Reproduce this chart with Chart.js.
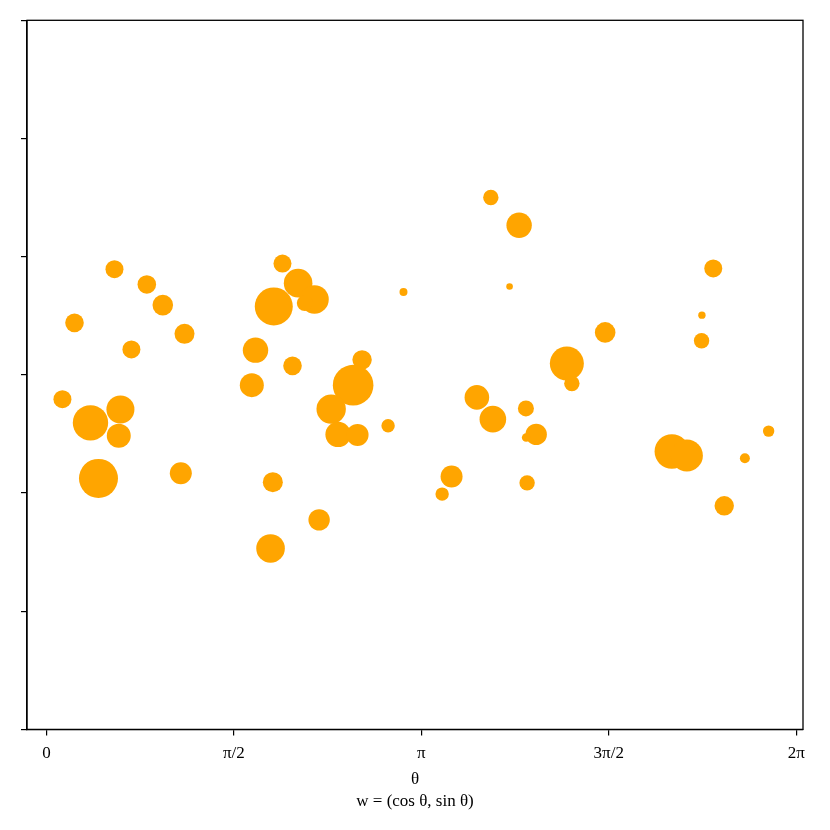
<!DOCTYPE html>
<html>
<head>
<meta charset="utf-8">
<script src="https://cdn.jsdelivr.net/npm/chart.js@4/dist/chart.umd.min.js"></script>
<style>
html,body{margin:0;padding:0;background:#fff;}
#wrap{width:830px;height:830px;}
</style>
</head>
<body>
<div id="wrap"><canvas id="c" width="830" height="830"></canvas></div>
<script>
// theta (radians)
const thetaValues = [
  0.570, 0.841, 0.975, 0.235, 1.157, 0.712, 0.134, 0.369, 0.620, 0.606,
  0.436, 1.126, 1.978, 2.109, 1.905, 2.246, 2.165, 2.992, 1.752, 2.062,
  2.645, 1.721, 2.570, 2.386, 2.444, 2.607, 2.863, 1.897, 2.285, 1.878,
  3.724, 3.961, 3.881, 5.588, 5.493, 5.490, 4.682, 4.361, 4.403, 3.607,
  3.741, 4.018, 4.104, 4.020, 3.395, 3.316, 4.028, 5.241, 5.367, 6.052,
  5.853, 5.680
];
// vertical values
const yValues = [
  0.894, 0.765, 0.590, 0.440, 0.347, 0.215, -0.206, -0.406, -0.293, -0.516,
  -0.876, -0.832, 0.942, 0.776, 0.579, 0.638, 0.607, 0.702, 0.209, 0.076,
  0.127, -0.087, -0.087, -0.290, -0.504, -0.508, -0.431, -0.908, -1.227, -1.469,
  1.501, 1.266, 0.748, 0.900, 0.505, 0.288, 0.359, 0.096, -0.073, -0.191,
  -0.375, -0.284, -0.504, -0.530, -0.860, -1.009, -0.914, -0.648, -0.682, -0.476,
  -0.705, -1.108
];
// bubble radius (weight)
const weights = [
  9, 9.3, 10.3, 9.3, 10, 9, 9, 17.7, 14, 12,
  19.5, 11, 9, 14.3, 19, 14.3, 8, 4, 12.7, 9.3,
  9.7, 12, 20.3, 14.7, 12.7, 11, 6.7, 10, 10.7, 14.3,
  7.7, 12.7, 3.3, 9, 3.7, 7.7, 10.3, 17, 7.7, 12.3,
  13.3, 8, 10.7, 4.3, 11, 6.7, 7.7, 17.3, 16, 5.7,
  5, 9.7
];
const xTickValues = [0, Math.PI/2, Math.PI, 3*Math.PI/2, 2*Math.PI];
const xTickLabels = ['0', 'π/2', 'π', '3π/2', '2π'];
const yTickValues = [-3, -2, -1, 0, 1, 2, 3];

const points = thetaValues.map((t, i) => ({x: t, y: yValues[i], r: weights[i]}));

const framePlugin = {
  id: 'frame',
  afterDatasetsDraw(chart) {
    const a = chart.chartArea, ctx = chart.ctx;
    ctx.save();
    ctx.strokeStyle = '#000';
    ctx.lineWidth = 1.3;
    ctx.strokeRect(a.left, a.top, a.right - a.left, a.bottom - a.top);
    ctx.restore();
  }
};

new Chart(document.getElementById('c'), {
  type: 'bubble',
  data: {
    datasets: [{
      data: points,
      backgroundColor: '#FFA500',
      borderWidth: 0,
      hoverBorderWidth: 0
    }]
  },
  options: {
    responsive: false,
    animation: false,
    events: [],
    layout: {padding: {left: 21, right: 27, top: 20, bottom: 17}},
    plugins: {legend: {display: false}, tooltip: {enabled: false}},
    scales: {
      x: {
        type: 'linear',
        min: -0.163,
        max: 6.34,
        afterBuildTicks(scale) { scale.ticks = xTickValues.map(v => ({value: v})); },
        ticks: {
          color: '#000',
          font: {family: 'Liberation Serif', size: 17},
          padding: 8,
          maxRotation: 0,
          callback(value, index) { return xTickLabels[index]; }
        },
        grid: {display: true, drawOnChartArea: false, drawTicks: true, tickLength: 6, color: '#000', lineWidth: 1.2},
        border: {display: true, color: '#000', width: 1.3},
        title: {
          display: true,
          text: ['θ', 'w = (cos θ, sin θ)'],
          color: '#000',
          font: {family: 'Liberation Serif', size: 17, lineHeight: 1.3},
          padding: {top: -3, bottom: 0}
        }
      },
      y: {
        type: 'linear',
        min: -3,
        max: 3,
        afterBuildTicks(scale) { scale.ticks = yTickValues.map(v => ({value: v})); },
        ticks: {display: false},
        grid: {display: true, drawOnChartArea: false, drawTicks: true, tickLength: 6, color: '#000', lineWidth: 1.2},
        border: {display: true, color: '#000', width: 1.3}
      }
    }
  },
  plugins: [framePlugin]
});
</script>
</body>
</html>
